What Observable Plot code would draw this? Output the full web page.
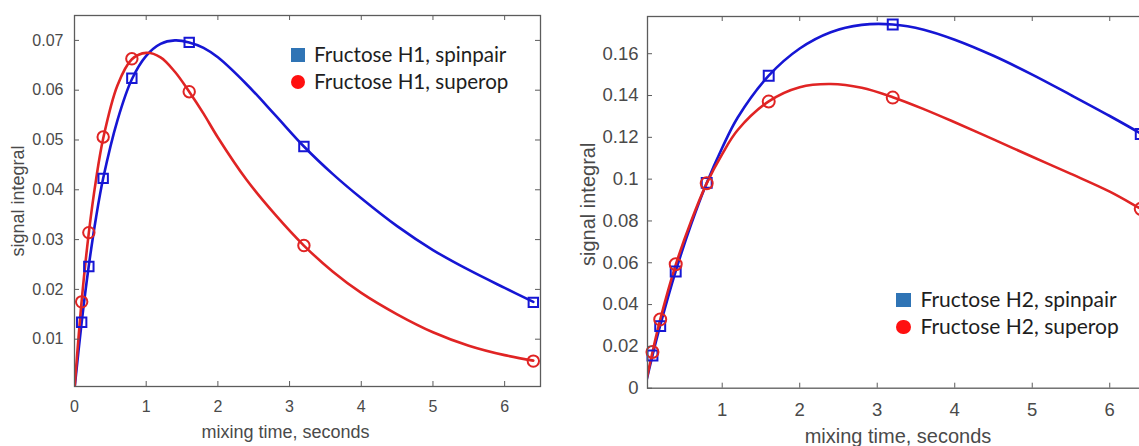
<!DOCTYPE html>
<html>
<head>
<meta charset="utf-8">
<script src="https://cdn.jsdelivr.net/npm/d3@7"></script>
<script src="https://cdn.jsdelivr.net/npm/@observablehq/plot@0.6"></script>
<style>
  html, body { margin: 0; padding: 0; background: #fff; overflow: hidden; }
  #wrap { position: relative; width: 1139px; height: 446px; overflow: hidden; background: #fff; }
  .panel { position: absolute; top: 0; }
  .lg-text { position: absolute; font-family: Lato, "Open Sans", sans-serif; color: #1e1e1e; white-space: nowrap; line-height: 24px; }
  .lg-mark { position: absolute; }
</style>
</head>
<body>
<div id="wrap"></div>
<script>
// ---------- data ----------
const mixingTimes = [0.1, 0.2, 0.4, 0.8, 1.6, 3.2, 6.4];

const h1Spinpair = [0.0134, 0.0246, 0.0423, 0.0624, 0.0696, 0.0487, 0.0174];
const h1Superop  = [0.0175, 0.0314, 0.0506, 0.0663, 0.0597, 0.0288, 0.0056];
const h2Spinpair = [0.0156, 0.0297, 0.0558, 0.0982, 0.1495, 0.1740, 0.1216];
const h2Superop  = [0.0173, 0.0329, 0.0593, 0.0980, 0.1371, 0.1390, 0.0858];

// fitted curves
const h1FitTimes    = [0, 0.1, 0.2, 0.3, 0.4, 0.6, 0.8, 1.0, 1.2, 1.4, 1.6, 1.8, 2.0, 2.4, 2.8, 3.2, 3.6, 4.0, 4.5, 5.0, 5.5, 6.0, 6.4];
const h1SpinpairFit = [0, 0.0134, 0.0248, 0.0344, 0.0423, 0.0540, 0.0622, 0.0669, 0.0693, 0.0700, 0.0696, 0.0685, 0.0666, 0.0612, 0.0550, 0.0487, 0.0432, 0.0383, 0.0327, 0.0279, 0.0239, 0.0203, 0.0175];
const h1SuperopFit  = [0, 0.0177, 0.0314, 0.0420, 0.0503, 0.0610, 0.0662, 0.0675, 0.0666, 0.0637, 0.0597, 0.0553, 0.0505, 0.0420, 0.0350, 0.0288, 0.0236, 0.0193, 0.0150, 0.0114, 0.0087, 0.0068, 0.0057];

const h2FitTimes    = [0, 0.1, 0.2, 0.4, 0.6, 0.8, 1.0, 1.2, 1.6, 2.0, 2.4, 2.8, 3.2, 3.6, 4.0, 4.5, 5.0, 5.5, 6.0, 6.4, 6.5];
const h2SpinpairFit = [0, 0.0156, 0.0300, 0.0560, 0.0785, 0.0982, 0.1150, 0.1295, 0.1495, 0.1625, 0.1703, 0.1738, 0.1740, 0.1715, 0.1667, 0.1590, 0.1500, 0.1402, 0.1302, 0.1218, 0.1195];
const h2SuperopFit  = [0, 0.0172, 0.0328, 0.0590, 0.0800, 0.0980, 0.1120, 0.1235, 0.1372, 0.1440, 0.1455, 0.1437, 0.1392, 0.1335, 0.1272, 0.1190, 0.1107, 0.1025, 0.0940, 0.0858, 0.0838];

// ticks
const h1XTicks = [0, 1, 2, 3, 4, 5, 6];
const h1XTickLabels = ["0", "1", "2", "3", "4", "5", "6"];
const h1YTicks = [0.01, 0.02, 0.03, 0.04, 0.05, 0.06, 0.07];
const h1YTickLabels = ["0.01", "0.02", "0.03", "0.04", "0.05", "0.06", "0.07"];
const h2XTicks = [1, 2, 3, 4, 5, 6];
const h2XTickLabels = ["1", "2", "3", "4", "5", "6"];
const h2YTicks = [0, 0.02, 0.04, 0.06, 0.08, 0.1, 0.12, 0.14, 0.16];
const h2YTickLabels = ["0", "0.02", "0.04", "0.06", "0.08", "0.1", "0.12", "0.14", "0.16"];

// texts
const xAxisLabel = "mixing time, seconds";
const yAxisLabel = "signal integral";
const h1LegendLabels = ["Fructose H1, spinpair", "Fructose H1, superop"];
const h2LegendLabels = ["Fructose H2, spinpair", "Fructose H2, superop"];

// ---------- styles ----------
const BLUE = "#1616d4";
const RED = "#e02424";
const AXIS = "#5c5c5c";
const TEXT = "#4a4a4a";
const LEG_BLUE = "#2f74b5";
const LEG_RED = "#ff1010";

function panel(cfg) {
  const fw = cfg.width - cfg.marginLeft - cfg.marginRight;
  const fh = cfg.height - cfg.marginTop - cfg.marginBottom;
  const fitRows = (ts, vs) => ts.map((t, i) => ({t, v: vs[i]}));
  const ptRows = (vs) => mixingTimes.map((t, i) => ({t, v: vs[i]}));
  const yFmt = d => cfg.yTickLabels[cfg.yTicks.indexOf(d)];
  const xFmt = d => cfg.xTickLabels[cfg.xTicks.indexOf(d)];
  return Plot.plot({
    width: cfg.width,
    height: cfg.height,
    marginLeft: cfg.marginLeft,
    marginRight: cfg.marginRight,
    marginTop: cfg.marginTop,
    marginBottom: cfg.marginBottom,
    x: {domain: cfg.xDomain},
    y: {domain: cfg.yDomain},
    style: {fontFamily: "'Liberation Sans', Arial, sans-serif", fontSize: cfg.tickFont + "px", color: TEXT, background: "transparent", overflow: "visible"},
    marks: [
      Plot.line(fitRows(cfg.fitT, cfg.fitA), {x: "t", y: "v", stroke: BLUE, strokeWidth: 2.6, curve: "catmull-rom", clip: true}),
      Plot.line(fitRows(cfg.fitT, cfg.fitB), {x: "t", y: "v", stroke: RED, strokeWidth: 2.6, curve: "catmull-rom", clip: true}),
      Plot.dot(ptRows(cfg.ptsA), {x: "t", y: "v", symbol: "square", r: cfg.sqR, stroke: BLUE, strokeWidth: 2, fill: "none"}),
      Plot.dot(ptRows(cfg.ptsB), {x: "t", y: "v", symbol: "circle", r: cfg.ciR, stroke: RED, strokeWidth: 2, fill: "none"}),
      Plot.frame({stroke: AXIS, strokeWidth: 1.3}),
      Plot.tickY(cfg.yTicks, {y: d => d, insetRight: fw - 5, stroke: AXIS}),
      Plot.tickY(cfg.yTicks, {y: d => d, insetLeft: fw - 5, stroke: AXIS}),
      Plot.tickX(cfg.xTicks, {x: d => d, insetTop: fh - 5, stroke: AXIS}),
      Plot.tickX(cfg.xTicks, {x: d => d, insetBottom: fh - 5, stroke: AXIS}),
      Plot.axisY({ticks: cfg.yTicks, tickFormat: yFmt, tickSize: 0, tickPadding: cfg.yPad, label: null}),
      Plot.axisX({ticks: cfg.xTicks, tickFormat: xFmt, tickSize: 0, tickPadding: cfg.xPad, label: null}),
      Plot.text([xAxisLabel], {text: d => d, frameAnchor: "bottom", textAnchor: "middle", lineAnchor: "middle", dx: cfg.xLabelDx, dy: cfg.xLabelDy, fontSize: cfg.labelFont, fill: TEXT}),
      Plot.text([yAxisLabel], {text: d => d, frameAnchor: "left", textAnchor: "middle", lineAnchor: "middle", rotate: -90, dx: cfg.yLabelDx, dy: cfg.yLabelDy, fontSize: cfg.labelFont, fill: TEXT})
    ]
  });
}

const wrap = document.getElementById("wrap");

const left = panel({
  width: 560, height: 446, marginLeft: 74, marginRight: 20, marginTop: 15, marginBottom: 60,
  xDomain: [0, 6.5], yDomain: [0.0005, 0.075],
  xTicks: h1XTicks, xTickLabels: h1XTickLabels, yTicks: h1YTicks, yTickLabels: h1YTickLabels,
  fitT: h1FitTimes, fitA: h1SpinpairFit, fitB: h1SuperopFit, ptsA: h1Spinpair, ptsB: h1Superop,
  tickFont: 16, labelFont: 18, yPad: 11, xPad: 14,
  xLabelDx: -22, xLabelDy: 46, yLabelDx: -56, yLabelDy: 0, sqR: 5.3, ciR: 5.7
});
left.classList.add("panel");
left.style.left = "0px";
wrap.appendChild(left);

const right = panel({
  width: 588, height: 446, marginLeft: 77, marginRight: 10, marginTop: 16, marginBottom: 58.3,
  xDomain: [0.036, 6.5], yDomain: [0, 0.1778],
  xTicks: h2XTicks, xTickLabels: h2XTickLabels, yTicks: h2YTicks, yTickLabels: h2YTickLabels,
  fitT: h2FitTimes, fitA: h2SpinpairFit, fitB: h2SuperopFit, ptsA: h2Spinpair, ptsB: h2Superop,
  tickFont: 18.5, labelFont: 20, yPad: 9, xPad: 15,
  xLabelDx: 0, xLabelDy: 48, yLabelDx: -59, yLabelDy: 2, sqR: 5.6, ciR: 6
});
right.classList.add("panel");
right.style.left = "570px";
wrap.appendChild(right);

// ---------- in-plot legends ----------
function legend(labels, {markX, textX, rows, size, fontSize}) {
  const shapes = [{color: LEG_BLUE, radius: "0"}, {color: LEG_RED, radius: "50%"}];
  labels.forEach((lab, i) => {
    const m = document.createElement("div");
    m.className = "lg-mark";
    m.style.left = (markX - size / 2) + "px";
    m.style.top = (rows[i] - size / 2) + "px";
    m.style.width = size + "px";
    m.style.height = size + "px";
    m.style.background = shapes[i].color;
    m.style.borderRadius = shapes[i].radius;
    wrap.appendChild(m);
    const t = document.createElement("div");
    t.className = "lg-text";
    t.style.left = textX + "px";
    t.style.top = (rows[i] - 13) + "px";
    t.style.fontSize = fontSize + "px";
    t.textContent = lab;
    wrap.appendChild(t);
  });
}
legend(h1LegendLabels, {markX: 297.5, textX: 314, rows: [55, 81.5], size: 14, fontSize: 20.6});
legend(h2LegendLabels, {markX: 903.5, textX: 920.5, rows: [300, 327], size: 14.5, fontSize: 21});
</script>
</body>
</html>
